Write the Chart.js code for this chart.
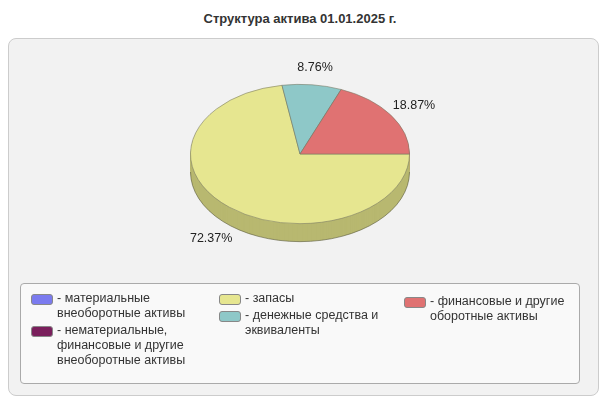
<!DOCTYPE html>
<html>
<head>
<meta charset="utf-8">
<script src="https://cdn.jsdelivr.net/npm/chart.js"></script>
<style>
  body { margin: 0; width: 600px; height: 400px; background: #fff; font-family: "Liberation Sans", Arial, sans-serif; position: relative; overflow: hidden; }
  #title { position: absolute; top: 11px; left: 0; width: 600px; text-align: center; font-weight: bold; font-size: 13px; color: #333; }
  #panel { position: absolute; left: 8px; top: 38px; width: 589px; height: 356px; background: #f2f2f2; border: 1px solid #ccc; border-radius: 8px; }
  #wrap { position: absolute; left: 0; top: 0; width: 600px; height: 300px; }
  #legend { position: absolute; left: 20px; top: 283px; width: 558px; height: 99px; background: #f9f9f9; border: 1px solid #aaa; border-radius: 4px; display: flex; }
  .col { padding-top: 7px; }
  .item { display: flex; align-items: flex-start; font-size: 12.5px; color: #333; line-height: 15px; white-space: pre-line; margin-bottom: 2px; }
  .sw { width: 20px; height: 9px; border-radius: 3px; border: 1px solid #888; margin: 3px 4px 0 0; flex: none; }
</style>
</head>
<body>
<div id="title">Структура актива 01.01.2025 г.</div>
<div id="panel"></div>
<div id="wrap"><canvas id="pie"></canvas></div>
<div id="legend"></div>
<script>
let labels = [
  "- материальные\nвнеоборотные активы",
  "- нематериальные,\nфинансовые и другие\nвнеоборотные активы",
  "- запасы",
  "- денежные средства и\nэквиваленты",
  "- финансовые и другие\nоборотные активы"
];
let values = [0, 0, 72.37, 8.76, 18.87];
let colors = ["#7b7bef", "#7a1f5c", "#e6e690", "#8ec8c8", "#e07272"];
let sideColors = ["#5a5ab0", "#5a1544", "#b8b870", "#6a9a9a", "#b05555"];
let legendColumns = [[0, 1], [2, 3], [4]];

const squash = 0.636;
const depth = 18;

// legend
let legendDiv = document.getElementById("legend");
let colLeft = [10, 198, 383];
legendColumns.forEach((col, c) => {
  let d = document.createElement("div");
  d.className = "col";
  d.style.position = "absolute";
  d.style.left = colLeft[c] + "px";
  d.style.top = (c === 2 ? 3 : 0) + "px";
  col.forEach(i => {
    let it = document.createElement("div");
    it.className = "item";
    if (c === 0 && i === 1) it.style.marginTop = "2px";
    it.innerHTML = '<span class="sw" style="background:' + colors[i] + '"></span><span></span>';
    it.lastChild.textContent = labels[i];
    d.appendChild(it);
  });
  legendDiv.appendChild(d);
});

let pie3d = {
  id: "pie3d",
  beforeDatasetsDraw(chart) {
    let ctx = chart.ctx;
    let meta = chart.getDatasetMeta(0);
    let arc0 = meta.data[0];
    let cx = arc0.x, cy = arc0.y, r = arc0.outerRadius;
    ctx.save();
    for (let d = depth; d >= 1; d--) {
      meta.data.forEach((a, i) => {
        if (values[i] === 0) return;
        ctx.beginPath();
        ctx.moveTo(cx, cy + d);
        ctx.ellipse(cx, cy + d, r, r * squash, 0, a.startAngle, a.endAngle);
        ctx.closePath();
        ctx.fillStyle = sideColors[i];
        ctx.fill();
      });
    }
    ctx.beginPath();
    ctx.ellipse(cx, cy + depth, r, r * squash, 0, 0, Math.PI);
    ctx.strokeStyle = "rgba(90,90,60,0.6)";
    ctx.lineWidth = 1;
    ctx.stroke();
    ctx.restore();
    ctx.save();
    ctx.translate(cx, cy);
    ctx.scale(1, squash);
    ctx.translate(-cx, -cy);
  },
  afterDatasetsDraw(chart) {
    let ctx = chart.ctx;
    ctx.restore();
    let meta = chart.getDatasetMeta(0);
    ctx.save();
    ctx.font = "12.5px 'Liberation Sans', Arial, sans-serif";
    ctx.fillStyle = "#222";
    ctx.textAlign = "center";
    ctx.textBaseline = "middle";
    meta.data.forEach((a, i) => {
      if (values[i] === 0) return;
      let mid = (a.startAngle + a.endAngle) / 2;
      let rr = a.outerRadius + 28;
      let x = a.x + Math.cos(mid) * rr;
      let y = a.y + Math.sin(mid) * rr * squash + (Math.sin(mid) > 0 ? depth : 0);
      ctx.fillText(values[i].toFixed(2) + "%", x, y);
    });
    ctx.restore();
  }
};

new Chart(document.getElementById("pie"), {
  type: "pie",
  data: {
    labels: labels,
    datasets: [{
      data: values,
      backgroundColor: colors,
      borderColor: "rgba(120,120,100,0.7)",
      borderWidth: 1
    }]
  },
  options: {
    responsive: true,
    maintainAspectRatio: false,
    animation: false,
    events: [],
    rotation: 90,
    layout: { padding: { top: 44, bottom: 36, left: 190, right: 190 } },
    plugins: { legend: { display: false }, tooltip: { enabled: false } }
  },
  plugins: [pie3d]
});
</script>
</body>
</html>
